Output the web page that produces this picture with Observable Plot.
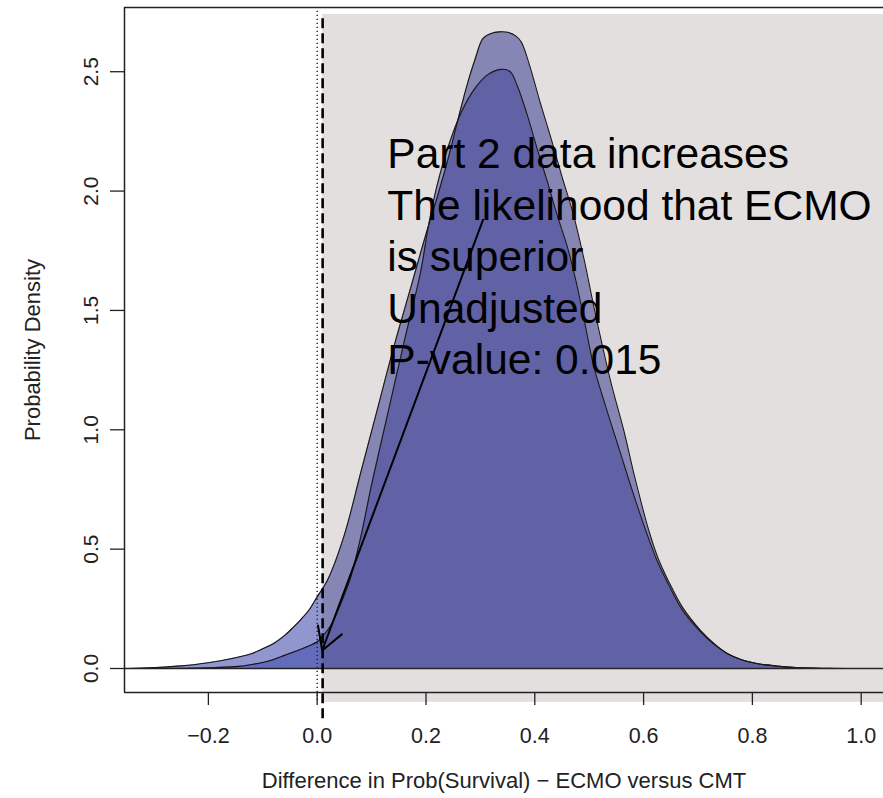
<!DOCTYPE html>
<html><head><meta charset="utf-8">
<script src="https://cdn.jsdelivr.net/npm/d3@7"></script>
<script src="https://cdn.jsdelivr.net/npm/@observablehq/plot@0.6"></script>
<style>html,body{margin:0;padding:0;background:#fff;overflow:hidden}#chart{width:883px;height:798px}</style>
</head><body><div id="chart"></div>
<script>
// Part 1 posterior (outer, lighter)
const xA = [-0.345,-0.30,-0.25,-0.20,-0.15,-0.12,-0.10,-0.08,-0.06,-0.045,-0.03,-0.015,0.0,0.02,0.05,0.08,0.11,0.14,0.17,0.20,0.22,0.24,0.26,0.275,0.29,0.305,0.32,0.335,0.35,0.365,0.375,0.39,0.41,0.43,0.45,0.47,0.49,0.51,0.539,0.5636,0.585,0.6096,0.627,0.645,0.672,0.705,0.732,0.755,0.78,0.81,0.85,0.88,0.93,0.97];
const yA = [0,0.004,0.011,0.024,0.045,0.063,0.083,0.105,0.138,0.17,0.205,0.245,0.30,0.375,0.56,0.82,1.08,1.34,1.58,1.82,1.97,2.13,2.31,2.44,2.55,2.64,2.66,2.667,2.665,2.65,2.625,2.53,2.37,2.22,2.06,1.91,1.72,1.50,1.207,0.997,0.79,0.578,0.46,0.37,0.255,0.159,0.10,0.062,0.037,0.02,0.009,0.004,0.001,0];
// Part 2 posterior (inner, darker)
const xB = [-0.30,-0.20,-0.15,-0.12,-0.10,-0.08,-0.06,-0.04,-0.02,0.0,0.01,0.025,0.043,0.06,0.08,0.10,0.13,0.16,0.19,0.205,0.22,0.24,0.265,0.29,0.315,0.34,0.355,0.368,0.386,0.404,0.423,0.441,0.46,0.475,0.49,0.508,0.53,0.555,0.58,0.604,0.625,0.643,0.67,0.703,0.73,0.754,0.78,0.81,0.85,0.88,0.93];
const yB = [0,0.003,0.008,0.017,0.025,0.038,0.055,0.072,0.09,0.112,0.135,0.18,0.27,0.37,0.55,0.77,1.07,1.37,1.66,1.86,2.02,2.18,2.33,2.43,2.49,2.51,2.50,2.44,2.32,2.18,2.04,1.90,1.765,1.63,1.47,1.27,1.10,0.92,0.74,0.578,0.45,0.365,0.25,0.158,0.10,0.062,0.037,0.02,0.009,0.004,0];

const xTicks = [-0.2,0.0,0.2,0.4,0.6,0.8,1.0];
const yTicks = [0.0,0.5,1.0,1.5,2.0,2.5];
const xLabel = "Difference in Prob(Survival) \u2212 ECMO versus CMT";
const yLabel = "Probability Density";
const noteLines = ["Part 2 data increases","The likelihood that ECMO","is superior","Unadjusted","P-value: 0.015"];
const threshold = 0.01;
const xDomain = [-0.3542, 1.041];
const yDomain = [-0.1005, 2.769];
const shadeY = [-0.142, 2.74];
const dashY = [-0.21, 2.736];
const dotY = [-0.134, 2.757];
const arrowFrom = [0.305, 1.88];
const arrowTo = [0.0092, 0.0754];
const notePos = [0.129, 2.25];

const dataA = xA.map((x, i) => ({x, y: yA[i]}));
const dataB = xB.map((x, i) => ({x, y: yB[i]}));
const fmt = d3.format(".1f");
const curve = "catmull-rom";
const fillColor = "rgb(40,50,160)";

const chart = Plot.plot({
  width: 883, height: 798,
  marginLeft: 124, marginRight: 0, marginTop: 7, marginBottom: 106,
  x: {domain: xDomain, label: null},
  y: {domain: yDomain, label: null},
  style: {fontFamily: "'Liberation Sans', Arial, sans-serif", background: "white", overflow: "hidden", color: "#222"},
  marks: [
    Plot.areaY(dataA, {x: "x", y: "y", fill: fillColor, fillOpacity: 0.51, curve}),
    Plot.areaY(dataB, {x: "x", y: "y", fill: fillColor, fillOpacity: 0.43, curve}),
    Plot.line(dataA, {x: "x", y: "y", stroke: "#111", strokeWidth: 1.1, curve}),
    Plot.line(dataB, {x: "x", y: "y", stroke: "#111", strokeWidth: 1.1, curve}),
    Plot.ruleY([0], {stroke: "#222", strokeWidth: 1.3}),
    Plot.rect([{x1: threshold, x2: xDomain[1] + 0.1, y1: shadeY[0], y2: shadeY[1]}], {x1: "x1", x2: "x2", y1: "y1", y2: "y2", fill: "rgb(80,55,50)", fillOpacity: 0.16}),
    Plot.ruleY([yDomain[0]], {stroke: "#222", strokeWidth: 1.5}),
    Plot.ruleY([yDomain[1]], {stroke: "#222", strokeWidth: 1.5}),
    Plot.ruleX([xDomain[0]], {stroke: "#222", strokeWidth: 1.5}),
    Plot.ruleX([{x: 0, y1: dotY[0], y2: dotY[1]}], {x: "x", y1: "y1", y2: "y2", stroke: "#222", strokeWidth: 1.4, strokeDasharray: "1.3,2.7"}),
    Plot.ruleX([{x: threshold, y1: dashY[0], y2: dashY[1]}], {x: "x", y1: "y1", y2: "y2", stroke: "#000", strokeWidth: 2.6, strokeDasharray: "10,5"}),
    Plot.axisX(xTicks, {tickSize: 13, tickPadding: 22, fontSize: 21.5, tickFormat: fmt, strokeWidth: 1.3}),
    Plot.axisY(yTicks, {tickSize: 14, tickFormat: () => "", strokeWidth: 1.3}),
    Plot.text(yTicks, {y: d => d, text: d => fmt(d), frameAnchor: "left", dx: -33, rotate: -90, fontSize: 21, textAnchor: "middle", lineAnchor: "middle", fill: "#222"}),
    Plot.text([yLabel], {text: d => d, frameAnchor: "left", dx: -92, rotate: -90, fontSize: 22, textAnchor: "middle", lineAnchor: "middle", fill: "#222"}),
    Plot.text([xLabel], {text: d => d, frameAnchor: "bottom", dy: 80, lineAnchor: "top", fontSize: 22, fill: "#222"}),
    Plot.arrow([{x1: arrowFrom[0], y1: arrowFrom[1], x2: arrowTo[0], y2: arrowTo[1]}], {x1: "x1", y1: "y1", x2: "x2", y2: "y2", stroke: "#000", strokeWidth: 2, headLength: 19}),
    Plot.text([noteLines.join("\n")], {text: d => d, x: notePos[0], y: notePos[1], textAnchor: "start", lineAnchor: "top", lineHeight: 1.214, fontSize: 42.5, fill: "#000"})
  ]
});
document.getElementById("chart").append(chart);
</script>
</body></html>
